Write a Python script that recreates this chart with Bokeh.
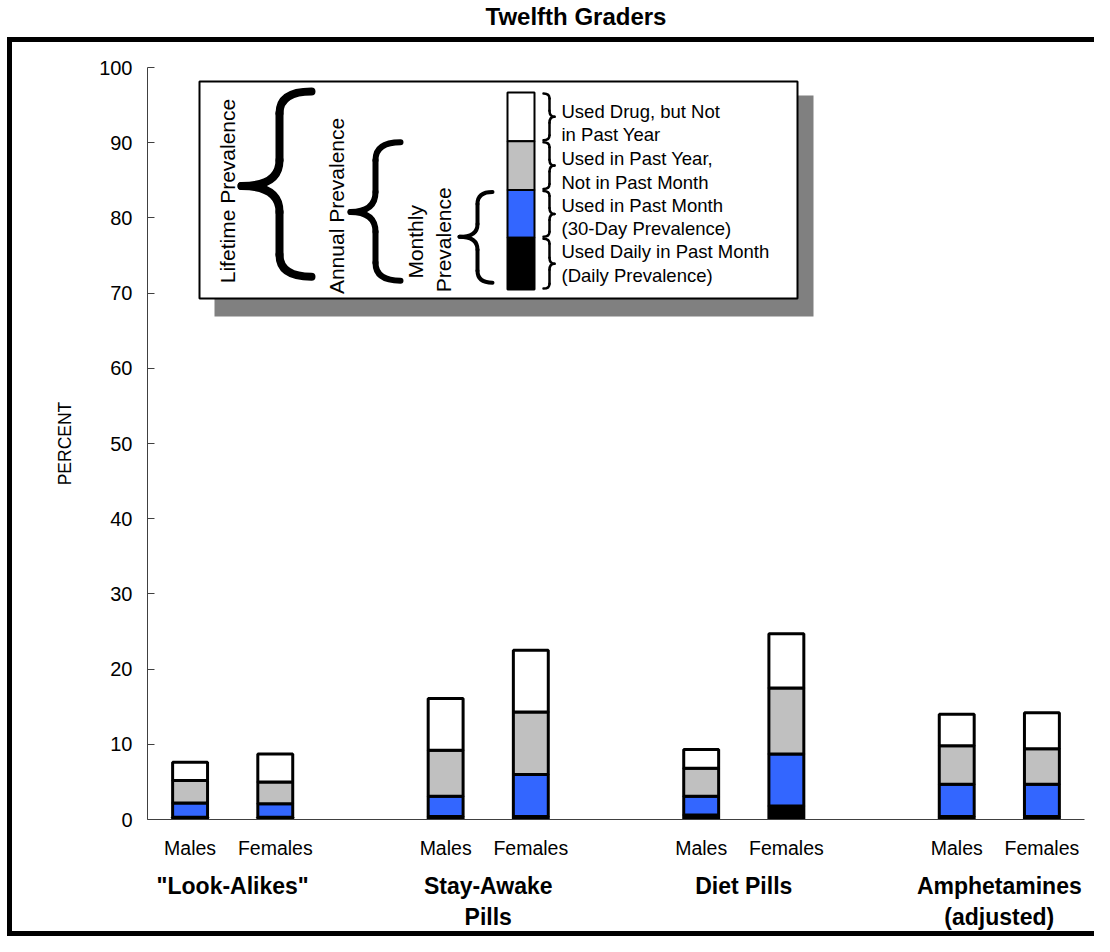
from math import pi
from bokeh.plotting import figure
from bokeh.models import FactorRange, Range1d, FixedTicker, InlineStyleSheet, Title
from bokeh.core.properties import value
from bokeh.embed import file_html
from bokeh.resources import INLINE

# ---------------- data ----------------
drugs = ['"Look-Alikes"', "Stay-Awake\nPills", "Diet Pills", "Amphetamines\n(adjusted)"]
sexes = ["Males", "Females"]
lifetime = [7.6, 8.7, 16.1, 22.5, 9.3, 24.7, 14.0, 14.2]
annual = [5.2, 5.0, 9.2, 14.3, 6.8, 17.5, 9.8, 9.4]
monthly = [2.2, 2.1, 3.1, 6.0, 3.1, 8.7, 4.7, 4.7]
daily = [0.3, 0.3, 0.4, 0.4, 0.6, 1.8, 0.4, 0.4]
y_ticks = [0, 10, 20, 30, 40, 50, 60, 70, 80, 90, 100]
legend_lines = ["Used Drug, but Not", "in Past Year", "Used in Past Year,",
                "Not in Past Month", "Used in Past Month", "(30-Day Prevalence)",
                "Used Daily in Past Month", "(Daily Prevalence)"]
title_text = "Twelfth Graders"
y_label = "PERCENT"

FONT = "Liberation Sans"
BLACK, BLUE, GRAY, WHITE = "#000000", "#3366FF", "#C0C0C0", "#FFFFFF"

# ---------------- layout (canvas px) ----------------
W, H = 1094, 936
FL, FR, FT, FB = 147, 1084, 67, 819
NUNITS = 11.0
UX = (FR - FL) / NUNITS
REF_FB, REF_UY = 823, 7.55   # reference picture: y=0 at 823 px, 7.55 px per unit


def dx(px):  # reference px -> synthetic x
    return (px - FL) / UX


def dy(py):  # reference px -> data y
    return (REF_FB - py) / REF_UY


factors = [(d, s) for d in drugs for s in sexes]

p = figure(width=W, height=H,
           x_range=FactorRange(*factors, group_padding=1.0, factor_padding=0.0, range_padding=0.0),
           y_range=Range1d(0, 100),
           output_backend="svg", toolbar_location=None,
           min_border_left=FL, min_border_right=W - FR,
           min_border_top=FT, min_border_bottom=H - FB,
           title=None)

p.outline_line_color = None
p.xgrid.grid_line_color = None
p.ygrid.grid_line_color = None
p.background_fill_color = "white"
p.border_fill_color = "white"

# spacer (closest to the frame) and the real title above it
p.add_layout(Title(text=" ", text_font=FONT, text_font_size="32px", standoff=0), "above")
p.add_layout(Title(text=title_text, text_font=FONT, text_font_size="24px",
                   text_font_style="bold", text_color="black", align="left",
                   offset=485 - FL, standoff=0), "above")

# y axis
ya = p.yaxis[0]
ya.ticker = FixedTicker(ticks=y_ticks)
ya.major_label_text_font = FONT
ya.major_label_text_font_size = "20px"
ya.major_label_text_color = "black"
ya.major_tick_in = 7
ya.major_tick_out = 0
ya.minor_tick_line_color = None
ya.major_label_standoff = 15
ya.axis_line_color = "#404040"
ya.major_tick_line_color = "#404040"
ya.axis_label = y_label
ya.axis_label_text_font = FONT
ya.axis_label_text_font_size = "17.5px"
ya.axis_label_text_font_style = "normal"
ya.axis_label_text_color = "black"
ya.axis_label_standoff = 21

# x axis
xa = p.xaxis[0]
xa.axis_line_color = "#404040"
xa.major_tick_line_color = None
xa.minor_tick_line_color = None
xa.major_label_text_font = FONT
xa.major_label_text_font_size = "19.5px"
xa.major_label_text_color = "black"
xa.major_label_standoff = 11
xa.group_text_font = FONT
xa.group_text_font_size = "23px"
xa.group_text_font_style = "bold"
xa.group_text_color = "black"
xa.separator_line_color = None

# bars
layers = [([0] * len(daily), daily, BLACK),
          (daily, monthly, BLUE),
          (monthly, annual, GRAY),
          (annual, lifetime, WHITE)]
for bottom, top, col in layers:
    p.vbar(x=factors, bottom=bottom, top=top, width=0.41, fill_color=col,
           line_color="black", line_width=3)

# ---------------- legend ----------------
p.quad(left=[dx(214)], right=[dx(813)], top=[dy(96)], bottom=[dy(318)],
       fill_color="#808080", line_color=None)
p.quad(left=[dx(199)], right=[dx(797)], top=[dy(82)], bottom=[dy(300)],
       fill_color="white", line_color="black", line_width=2)

seg_edges = [93, 142, 191, 239, 291]
seg_cols = [WHITE, GRAY, BLUE, BLACK]
for i, c in enumerate(seg_cols):
    p.quad(left=[dx(507)], right=[dx(534)], top=[dy(seg_edges[i])], bottom=[dy(seg_edges[i + 1])],
           fill_color=c, line_color="black", line_width=2)


def brace(xe, xs, xt, yt, yb, ym, r, r2, lw):
    """curly brace: hook ends at xe, stem at xs, tip at xt (reference px)."""
    qx0, qy0, qx1, qy1, qcx, qcy = [], [], [], [], [], []
    qx0.append(dx(xe)); qy0.append(dy(yt)); qx1.append(dx(xs)); qy1.append(dy(yt + r))
    qcx.append(dx(xs)); qcy.append(dy(yt))
    qx0.append(dx(xs)); qy0.append(dy(ym - r2)); qx1.append(dx(xt)); qy1.append(dy(ym))
    qcx.append(dx(xs)); qcy.append(dy(ym))
    qx0.append(dx(xt)); qy0.append(dy(ym)); qx1.append(dx(xs)); qy1.append(dy(ym + r2))
    qcx.append(dx(xs)); qcy.append(dy(ym))
    qx0.append(dx(xs)); qy0.append(dy(yb - r)); qx1.append(dx(xe)); qy1.append(dy(yb))
    qcx.append(dx(xs)); qcy.append(dy(yb))
    p.quadratic(x0=qx0, y0=qy0, x1=qx1, y1=qy1, cx=qcx, cy=qcy,
                line_color="black", line_width=lw, line_cap="round")
    p.segment(x0=[dx(xs), dx(xs)], y0=[dy(yt + r), dy(ym + r2)],
              x1=[dx(xs), dx(xs)], y1=[dy(ym - r2), dy(yb - r)],
              line_color="black", line_width=lw, line_cap="round")


brace(311, 279, 241, 92, 278, 187, 22, 26, 8)
brace(400, 375, 350, 143, 282, 213, 18, 20, 6)
brace(492, 477, 459, 193, 284, 238, 12, 13, 4)
for i in range(4):
    t, b = seg_edges[i] + 1, seg_edges[i + 1] - 1
    brace(543, 549, 554, t, b, (t + b) / 2, 5, 6, 2.5)

rot_x = [dx(227), dx(336), dx(415), dx(443)]
rot_y = [dy(192), dy(207), dy(243), dy(241)]
p.text(x=rot_x, y=rot_y,
       text=["Lifetime Prevalence", "Annual Prevalence", "Monthly", "Prevalence"],
       angle=pi / 2, text_align="center", text_baseline="middle",
       text_font=value(FONT), text_font_size="21px", text_color="black")

line_y = [112, 135, 159, 183, 207, 230, 253, 277]
p.text(x=[dx(561)] * len(legend_lines), y=[dy(v) for v in line_y], text=legend_lines,
       text_align="left", text_baseline="middle",
       text_font=value(FONT), text_font_size="18.5px", text_color="black")

# outer black frame around the plotting area (below the title)
p.stylesheets = [InlineStyleSheet(css=(
    ":host { position: relative; }"
    ":host::after { content: ''; position: absolute; left: 7px; top: 37px; "
    "width: 1087px; height: 899px; box-sizing: border-box; "
    "border: 5px solid black; border-right: none; pointer-events: none; z-index: 10; }"
))]

open("out.html", "w").write(file_html(p, INLINE))
